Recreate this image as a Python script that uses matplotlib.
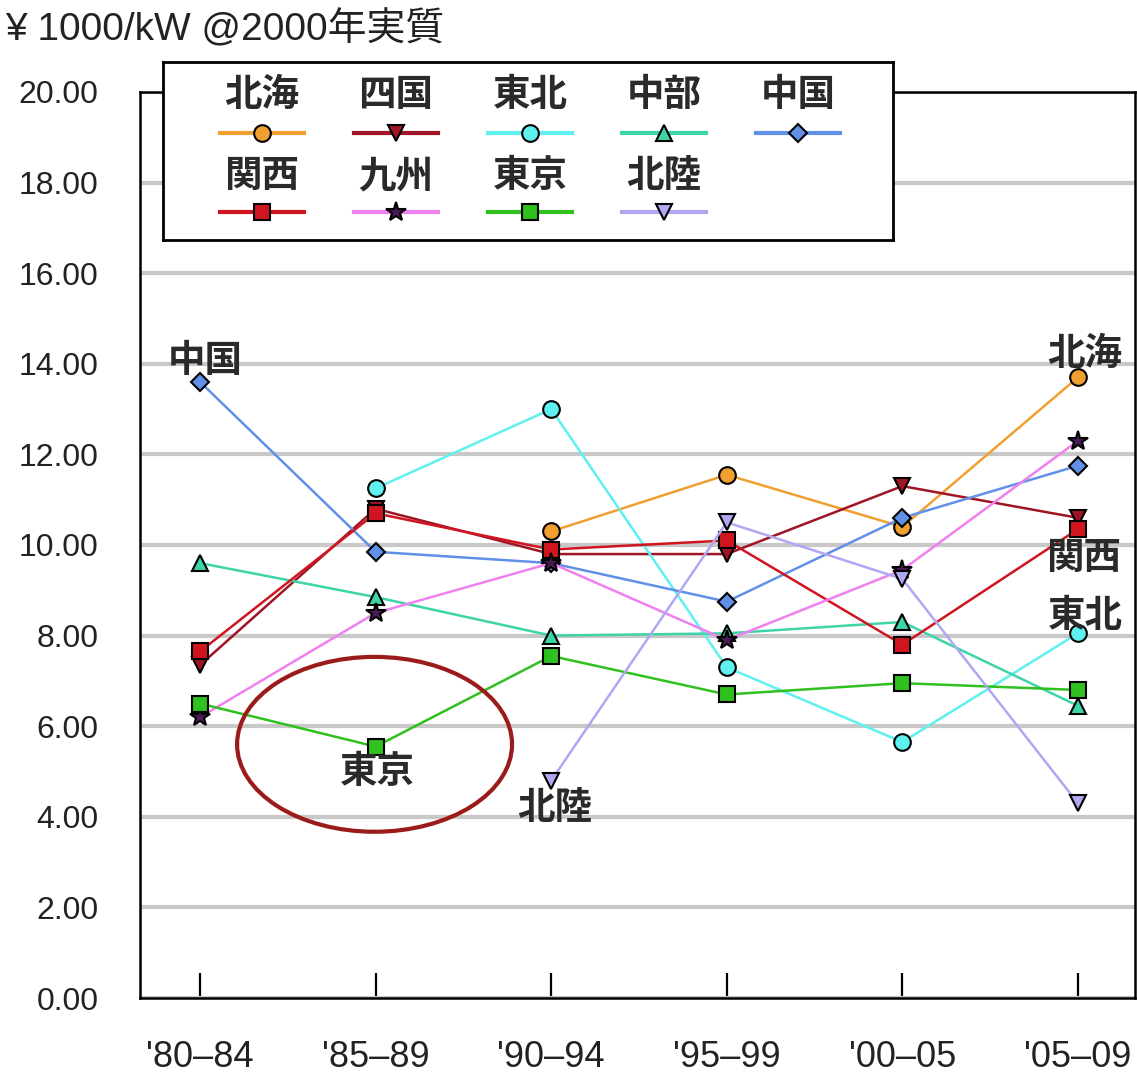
import numpy as np
import matplotlib
matplotlib.use("Agg")
import matplotlib.pyplot as plt
from matplotlib.patches import Ellipse

plt.rcParams["font.family"] = ["Liberation Sans", "Noto Sans CJK JP"]

periods = ["'80\u201384", "'85\u201389", "'90\u201394", "'95\u201399", "'00\u201305", "'05\u201309"]
nan = np.nan

# cost series, ¥1000/kW (2000 real)
hokkaido = [nan, nan, 10.3, 11.55, 10.4, 13.7]
shikoku = [7.35, 10.8, 9.8, 9.8, 11.3, 10.6]
tohoku = [nan, 11.25, 13.0, 7.3, 5.65, 8.05]
chubu = [9.6, 8.85, 8.0, 8.05, 8.3, 6.45]
chugoku = [13.6, 9.85, 9.6, 8.75, 10.6, 11.75]
kansai = [7.65, 10.7, 9.9, 10.1, 7.8, 10.35]
kyushu = [6.2, 8.5, 9.6, 7.9, 9.45, 12.3]
tokyo = [6.5, 5.55, 7.55, 6.7, 6.95, 6.8]
hokuriku = [nan, nan, 4.8, 10.5, 9.25, 4.3]

# name, values, line colour, marker, marker fill, marker size
series = [
    ("北海", hokkaido, "#f0a030", "o", "#f0a030", 12),
    ("四国", shikoku, "#a01525", "v", "#a01525", 12),
    ("東北", tohoku, "#5ff0f0", "o", "#5ff0f0", 12),
    ("中部", chubu, "#3fd4a8", "^", "#3fd4a8", 12),
    ("中国", chugoku, "#6090e8", "D", "#6090e8", 9),
    ("関西", kansai, "#d01520", "s", "#d01520", 12),
    ("九州", kyushu, "#f080f0", "*", "#4a1a55", 15),
    ("東京", tokyo, "#30c020", "s", "#30c020", 12),
    ("北陸", hokuriku, "#b0a8f0", "v", "#b0a8f0", 12),
]

# (label, x index, y value) for the in-plot callouts
callouts = [("中国", 0.03, 14.05), ("東京", 1.01, 4.97), ("北陸", 2.02, 4.17),
            ("北海", 5.04, 14.2), ("関西", 5.03, 9.7), ("東北", 5.04, 8.4)]

JP = dict(fontsize=27, fontweight="bold", color="#2a2a2a")

W, H = 1137, 1075
fig = plt.figure(figsize=(W / 100, H / 100), dpi=100)
ax = fig.add_axes([140 / W, 1 - 998 / H, (1135 - 140) / W, (998 - 92) / H])

x = np.arange(len(periods))
for name, vals, lc, mk, mf, ms in series:
    ax.plot(x, vals, color=lc, lw=1.8, marker=mk, markersize=ms,
            markerfacecolor=mf, markeredgecolor="black", markeredgewidth=1.5, zorder=3)

for label, xi, yv in callouts:
    ax.text(xi, yv, label, ha="center", va="center", zorder=5, **JP)

ax.add_patch(Ellipse((0.994, 5.6), 1.566, 3.86, fill=False, edgecolor="#9b1b1b", lw=3, zorder=4))

ax.set_xlim(-0.342, 5.325)
ax.set_ylim(0, 20)
ax.set_xticks(x)
ax.set_xticklabels(periods, fontsize=26, color="#222222")
ax.set_yticks(np.arange(0, 21, 2))
ax.set_yticklabels([f"{v:.2f}" for v in np.arange(0, 21, 2)], fontsize=23, color="#222222")
ax.tick_params(axis="x", direction="in", length=18, width=1.6, pad=30)
ax.tick_params(axis="y", length=0, pad=30)
ax.yaxis.grid(True, color="#c8c8c8", lw=3)
ax.set_axisbelow(True)
for s in ax.spines.values():
    s.set_linewidth(1.8)

fig.text(5 / W, 1 - 29 / H, "¥ 1000/kW @2000年実質", fontsize=28, ha="left", va="center",
         color="#222222")

# legend box: label above each line sample, five per row
lax = fig.add_axes([163 / W, 1 - 240 / H, 730 / W, 178 / H])
lax.set_xlim(0, 730)
lax.set_ylim(178, 0)
lax.set_xticks([])
lax.set_yticks([])
for s in lax.spines.values():
    s.set_linewidth(2)
col_x = [99, 233, 367, 501, 635]
for i, (name, vals, lc, mk, mf, ms) in enumerate(series):
    r, c = divmod(i, 5)
    cx = col_x[c]
    ty = 34 + r * 81
    ly = 71 + r * 79
    lax.text(cx, ty, name, ha="center", va="center", **JP)
    lax.plot([cx - 42, cx + 42], [ly, ly], color=lc, lw=3)
    lax.plot([cx], [ly], marker=mk, markersize=ms, markerfacecolor=mf,
             markeredgecolor="black", markeredgewidth=1.5)

fig.savefig("out.png", dpi=100)
